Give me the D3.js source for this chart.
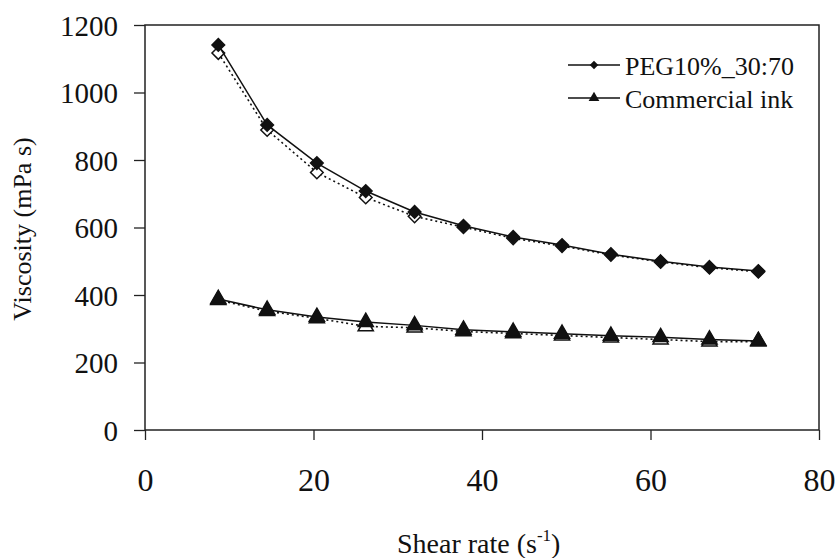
<!DOCTYPE html>
<html>
<head>
<meta charset="utf-8">
<script src="https://cdn.jsdelivr.net/npm/d3@7"></script>
<style>
  body { margin: 0; background: #fff; }
  svg text { font-family: "Liberation Serif", "Times New Roman", serif; fill: #111; }
</style>
</head>
<body>
<svg id="chart" width="838" height="558"></svg>
<script>
// shear rate (s-1) and viscosity (mPa s)
var shearRate = [8.7, 14.5, 20.4, 26.2, 32.0, 37.8, 43.7, 49.5, 55.3, 61.2, 67.0, 72.8];
var pegFilled = [1141, 904, 791, 708, 646, 605, 572, 548, 521, 500, 483, 471];
var pegOpen   = [1117, 889, 763, 689, 633, 601, 568, 545, 519, 498, 481, 469];
var inkFilled = [388, 356, 335, 320, 310, 297, 291, 285, 279, 275, 268, 264];
var inkOpen   = [385, 352, 331, 307, 303, 292, 286, 280, 274, 268, 262, 262];

var xTicks = [0, 20, 40, 60, 80];
var yTicks = [0, 200, 400, 600, 800, 1000, 1200];
var legendNames = ["PEG10%_30:70", "Commercial ink"];

var plotL = 145, plotR = 819, plotT = 25, plotB = 430;
var serif = "'Liberation Serif', 'Times New Roman', serif";

var svg = d3.select("#chart");

var x = d3.scaleLinear().domain([0, 80]).range([plotL, plotR]);
var y = d3.scaleLinear().domain([0, 1200]).range([plotB, plotT]);

// frame
svg.append("rect")
    .attr("x", plotL).attr("y", plotT)
    .attr("width", plotR - plotL).attr("height", plotB - plotT)
    .attr("fill", "none").attr("stroke", "#222").attr("stroke-width", 1.5);

// axes
var gy = svg.append("g")
    .attr("transform", "translate(" + plotL + ",0)")
    .call(d3.axisLeft(y).tickValues(yTicks).tickFormat(d3.format("d")).tickSize(11).tickPadding(16));
gy.attr("font-family", serif);
gy.selectAll("text")
    .style("font-family", serif)
    .style("font-size", "29px")
    .attr("dy", "0.35em");

var gx = svg.append("g")
    .attr("transform", "translate(0," + plotB + ")")
    .call(d3.axisBottom(x).tickValues(xTicks).tickFormat(d3.format("d")).tickSize(10));
gx.attr("font-family", serif);
gx.selectAll("text")
    .style("font-family", serif)
    .style("font-size", "32px")
    .attr("dy", null)
    .attr("y", 61);

svg.selectAll(".domain").remove();
svg.selectAll(".tick line").attr("stroke", "#222").attr("stroke-width", 1.3);

// axis titles
svg.append("text")
    .attr("transform", "translate(31,229) rotate(-90)")
    .attr("text-anchor", "middle")
    .style("font-size", "26px")
    .text("Viscosity (mPa s)");

var xt = svg.append("text")
    .attr("x", 397).attr("y", 553)
    .style("font-size", "28px");
xt.append("tspan").text("Shear rate (s");
xt.append("tspan").attr("dy", -12).style("font-size", "17px").text("-1");
xt.append("tspan").attr("dy", 12).text(")");

// series
function pts(xs, ys) {
    return xs.map(function(d, i) { return [d, ys[i]]; });
}

var line = d3.line()
    .x(function(d) { return x(d[0]); })
    .y(function(d) { return y(d[1]); });

// square diamond (rotated square), like the spreadsheet marker
var squareDiamond = {
    draw: function(ctx, size) {
        var r = Math.sqrt(size / 2);
        ctx.moveTo(0, -r);
        ctx.lineTo(r, 0);
        ctx.lineTo(0, r);
        ctx.lineTo(-r, 0);
        ctx.closePath();
    }
};

var diamond = d3.symbol().type(squareDiamond).size(80);
var triangle = d3.symbol().type(d3.symbolTriangle).size(100);

function drawSeries(data, dashed, sym, filled) {
    svg.append("path")
        .datum(data)
        .attr("d", line)
        .attr("fill", "none")
        .attr("stroke", "#111")
        .attr("stroke-width", dashed ? 1.6 : 1.5)
        .attr("stroke-dasharray", dashed ? "2,3" : null);
    svg.selectAll(null)
        .data(data)
        .enter()
        .append("path")
        .attr("d", sym)
        .attr("transform", function(d) { return "translate(" + x(d[0]) + "," + y(d[1]) + ")"; })
        .attr("fill", filled ? "#111" : "#fff")
        .attr("stroke", "#111")
        .attr("stroke-width", 1.5);
}

drawSeries(pts(shearRate, pegOpen), true, diamond, false);
drawSeries(pts(shearRate, inkOpen), true, triangle, false);
drawSeries(pts(shearRate, pegFilled), false, diamond, true);
drawSeries(pts(shearRate, inkFilled), false, triangle, true);

// legend
var legend = svg.append("g");
var legendSym = [d3.symbol().type(squareDiamond).size(36), d3.symbol().type(d3.symbolTriangle).size(50)];
legendNames.forEach(function(name, i) {
    var ly = 65 + i * 33;
    legend.append("line")
        .attr("x1", 568).attr("x2", 620)
        .attr("y1", ly).attr("y2", ly)
        .attr("stroke", "#111").attr("stroke-width", 1.5);
    legend.append("path")
        .attr("d", legendSym[i])
        .attr("transform", "translate(594," + ly + ")")
        .attr("fill", "#111");
    legend.append("text")
        .attr("x", 625).attr("y", ly + 10)
        .style("font-size", "26px")
        .text(name);
});
</script>
</body>
</html>
